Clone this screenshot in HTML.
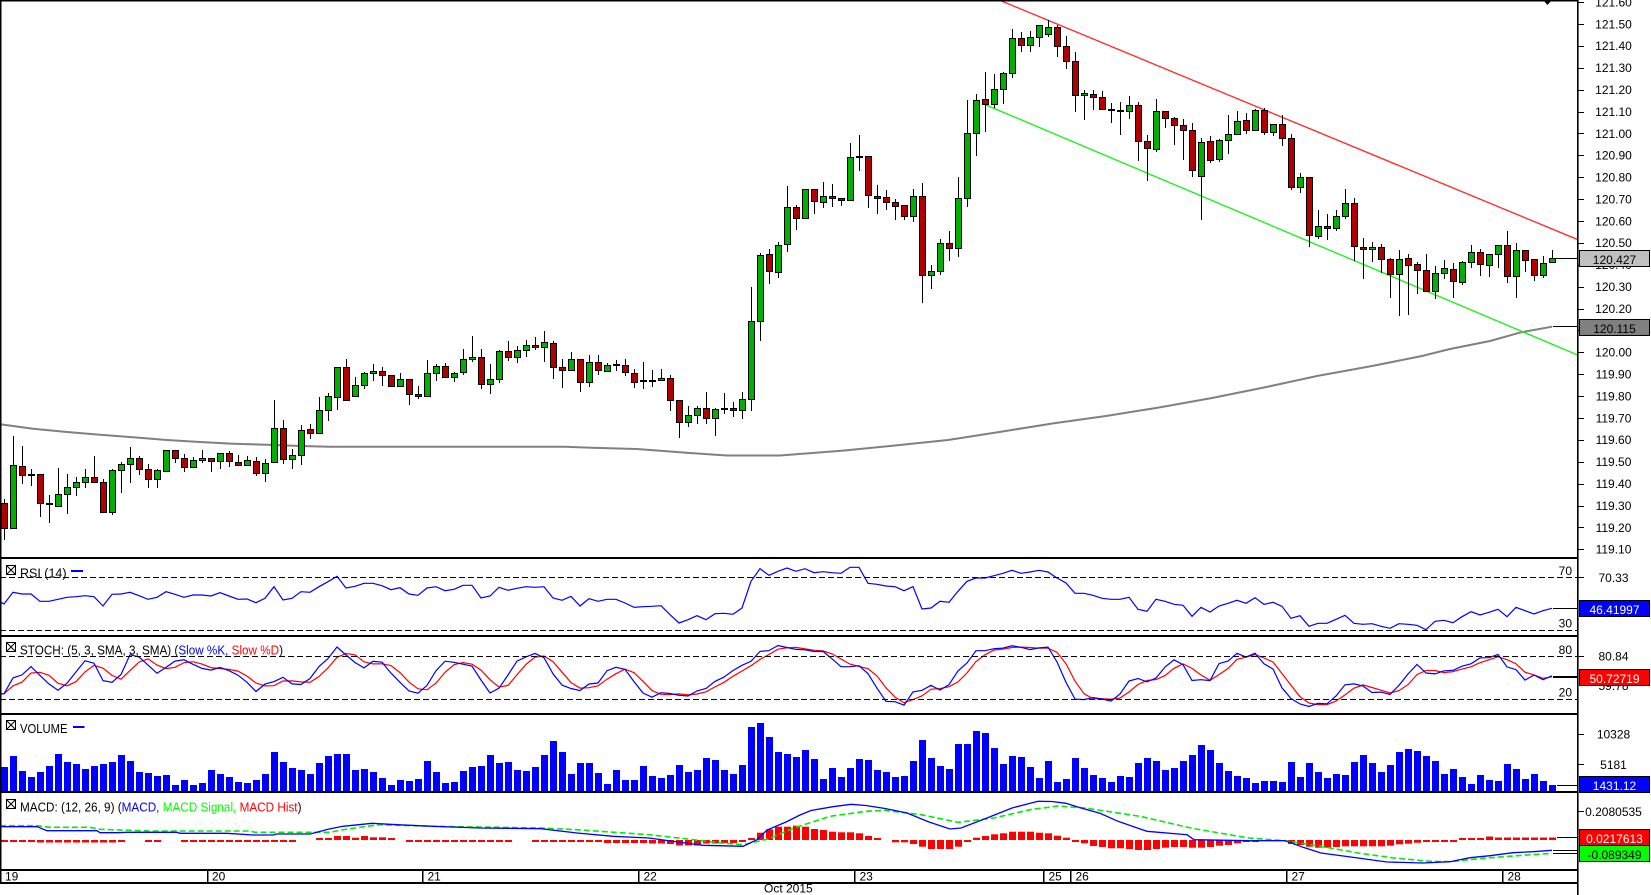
<!DOCTYPE html>
<html><head><meta charset="utf-8">
<style>
html,body{margin:0;padding:0;background:#fff;overflow:hidden;}
svg{display:block;}
text{font-family:"Liberation Sans",Arial,sans-serif;font-size:12px;fill:#000;}
.lg{font-size:13px;}
.ax{text-anchor:middle;}
.lv{text-anchor:end;}
</style></head>
<body>
<svg xmlns="http://www.w3.org/2000/svg" width="1651" height="895" viewBox="0 0 1651 895">
<rect width="1651" height="895" fill="#fff"/>
<defs>
<clipPath id="cpMain"><rect x="0" y="0" width="1577" height="557"/></clipPath>
<clipPath id="cpRsi"><rect x="0" y="559" width="1577" height="76"/></clipPath>
<clipPath id="cpSto"><rect x="0" y="637" width="1577" height="76"/></clipPath>
<clipPath id="cpVol"><rect x="0" y="715" width="1577" height="76"/></clipPath>
<clipPath id="cpMacd"><rect x="0" y="793" width="1577" height="76"/></clipPath>
</defs>
<g id="gMain" clip-path="url(#cpMain)"></g>
<g id="gRsi" clip-path="url(#cpRsi)"></g>
<g id="gSto" clip-path="url(#cpSto)"></g>
<g id="gVol" clip-path="url(#cpVol)"></g>
<g id="gMacd" clip-path="url(#cpMacd)"></g>
<g id="gAx"></g>

<!-- level lines -->
<g stroke="#000" stroke-width="1" stroke-dasharray="6,3" fill="none">
<line x1="0" y1="577.5" x2="1577" y2="577.5"/>
<line x1="0" y1="630.5" x2="1577" y2="630.5"/>
<line x1="0" y1="656.5" x2="1577" y2="656.5"/>
<line x1="0" y1="699.5" x2="1577" y2="699.5"/>
</g>

<!-- frame -->
<rect x="0" y="0" width="1578" height="1.5" fill="#000"/>
<rect x="0" y="0" width="1.5" height="883" fill="#000"/>
<rect x="0" y="557" width="1578" height="2" fill="#000"/>
<rect x="0" y="635" width="1578" height="2" fill="#000"/>
<rect x="0" y="713" width="1578" height="2" fill="#000"/>
<rect x="0" y="791" width="1578" height="2" fill="#000"/>
<rect x="0" y="869" width="1578" height="2" fill="#000"/>
<rect x="0" y="882" width="1578" height="2" fill="#000"/>
<rect x="1577" y="0" width="1.6" height="895" fill="#000"/>
<polygon points="1543,0 1552,0 1547.5,5" fill="#000"/>

<!-- date separators -->
<g fill="#000">
<rect x="207" y="870" width="1.5" height="13"/>
<rect x="422" y="870" width="1.5" height="13"/>
<rect x="638" y="870" width="1.5" height="13"/>
<rect x="854" y="870" width="1.5" height="13"/>
<rect x="1043" y="870" width="1.5" height="13"/>
<rect x="1070" y="870" width="1.5" height="13"/>
<rect x="1286" y="870" width="1.5" height="13"/>
<rect x="1502" y="870" width="1.5" height="13"/>
</g>
<text x="5" y="880.5">19</text>
<text x="212" y="880.5">20</text>
<text x="427.5" y="880.5">21</text>
<text x="643.5" y="880.5">22</text>
<text x="859.5" y="880.5">23</text>
<text x="1048.5" y="880.5">25</text>
<text x="1075.5" y="880.5">26</text>
<text x="1291.5" y="880.5">27</text>
<text x="1507.5" y="880.5">28</text>
<text x="764" y="892.5">Oct 2015</text>

<!-- legends -->
<g fill="#fff" stroke="#000" stroke-width="1">
<rect x="6.5" y="565.5" width="9" height="9"/>
<rect x="6.5" y="642.5" width="9" height="9"/>
<rect x="6.5" y="720.5" width="9" height="9"/>
<rect x="6.5" y="799.5" width="9" height="9"/>
</g>
<path d="M6.5 565.5L15.5 574.5M15.5 565.5L6.5 574.5M6.5 642.5L15.5 651.5M15.5 642.5L6.5 651.5M6.5 720.5L15.5 729.5M15.5 720.5L6.5 729.5M6.5 799.5L15.5 808.5M15.5 799.5L6.5 808.5" stroke="#000" stroke-width="1" fill="none"/>
<text class="lg" x="20" y="577.5" textLength="46.5" lengthAdjust="spacingAndGlyphs">RSI (14)</text>
<rect x="71" y="570" width="12" height="2" fill="#0000ff"/>
<text class="lg" x="20" y="654.5" textLength="263" lengthAdjust="spacingAndGlyphs">STOCH: (5, 3, SMA, 3, SMA) (<tspan fill="#0000ff">Slow %K,</tspan> <tspan fill="#ff0000">Slow %D</tspan>)</text>
<text class="lg" x="20" y="733" textLength="47.5" lengthAdjust="spacingAndGlyphs">VOLUME</text>
<rect x="73" y="726" width="11.5" height="2" fill="#0000ff"/>
<text class="lg" x="20" y="811.5" textLength="281.5" lengthAdjust="spacingAndGlyphs">MACD: (12, 26, 9) (<tspan fill="#0000ff">MACD,</tspan> <tspan fill="#00ff00">MACD Signal,</tspan> <tspan fill="#ff0000">MACD Hist</tspan>)</text>

<!-- level labels -->
<text class="lv" x="1572" y="575">70</text>
<text class="lv" x="1572" y="627.3">30</text>
<text class="lv" x="1572" y="654">80</text>
<text class="lv" x="1572" y="696.7">20</text>

<!-- price axis labels -->
<g class="ax">
<text class="ax" x="1613.5" y="6.4">121.60</text>
<text class="ax" x="1613.5" y="28.3">121.50</text>
<text class="ax" x="1613.5" y="50.2">121.40</text>
<text class="ax" x="1613.5" y="72.1">121.30</text>
<text class="ax" x="1613.5" y="94">121.20</text>
<text class="ax" x="1613.5" y="115.9">121.10</text>
<text class="ax" x="1613.5" y="137.8">121.00</text>
<text class="ax" x="1613.5" y="159.6">120.90</text>
<text class="ax" x="1613.5" y="181.5">120.80</text>
<text class="ax" x="1613.5" y="203.4">120.70</text>
<text class="ax" x="1613.5" y="225.3">120.60</text>
<text class="ax" x="1613.5" y="247.2">120.50</text>
<text class="ax" x="1613.5" y="269.1">120.40</text>
<text class="ax" x="1613.5" y="291">120.30</text>
<text class="ax" x="1613.5" y="312.9">120.20</text>
<text class="ax" x="1613.5" y="334.8">120.10</text>
<text class="ax" x="1613.5" y="356.6">120.00</text>
<text class="ax" x="1613.5" y="378.5">119.90</text>
<text class="ax" x="1613.5" y="400.4">119.80</text>
<text class="ax" x="1613.5" y="422.3">119.70</text>
<text class="ax" x="1613.5" y="444.2">119.60</text>
<text class="ax" x="1613.5" y="466.1">119.50</text>
<text class="ax" x="1613.5" y="488">119.40</text>
<text class="ax" x="1613.5" y="509.9">119.30</text>
<text class="ax" x="1613.5" y="531.8">119.20</text>
<text class="ax" x="1613.5" y="553.7">119.10</text>
<text class="ax" x="1613.5" y="582">70.33</text>
<text class="ax" x="1613.5" y="660.5">80.84</text>
<text class="ax" x="1613.5" y="690">59.78</text>
<text class="ax" x="1613.5" y="738.7">10328</text>
<text class="ax" x="1613.5" y="769">5181</text>
<text class="ax" x="1613.5" y="816">0.2080535</text>
</g>

<!-- current value lines -->
<g fill="#000">
<rect x="1556" y="258" width="21" height="1"/>
<rect x="1553" y="326" width="24" height="1"/>
<rect x="1553" y="608" width="24" height="1"/>
<rect x="1553" y="676" width="24" height="2"/>
<rect x="1557" y="785" width="20" height="1"/>
<rect x="1557" y="837" width="20" height="1"/>
<rect x="1553" y="850" width="24" height="1"/>
<rect x="1553" y="853" width="24" height="1"/>
</g>

<!-- value boxes -->
<rect x="1579.5" y="250.5" width="70" height="16" fill="#c0c0c0" stroke="#000"/>
<text class="ax" x="1614.5" y="263.8">120.427</text>
<rect x="1579.5" y="319.5" width="70" height="16" fill="#808080" stroke="#000"/>
<text class="ax" x="1614.5" y="332.8">120.115</text>
<rect x="1579.5" y="600.5" width="70" height="16" fill="#0000ff" stroke="#000"/>
<text class="ax" x="1614.5" y="613.8" fill="#fff" style="fill:#fff">46.41997</text>
<rect x="1579.5" y="669.5" width="70" height="16" fill="#ff0000" stroke="#000"/>
<text class="ax" x="1614.5" y="682.8" style="fill:#fff">50.72719</text>
<rect x="1579.5" y="776.5" width="70" height="16" fill="#0000ff" stroke="#000"/>
<text class="ax" x="1614.5" y="789.8" style="fill:#fff">1431.12</text>
<rect x="1579.5" y="829.5" width="70" height="16" fill="#ff0000" stroke="#000"/>
<text class="ax" x="1614.5" y="842.8" style="fill:#fff">0.0217613</text>
<rect x="1579.5" y="845.5" width="70" height="16" fill="#00ff00" stroke="#000"/>
<text class="ax" x="1614.5" y="858.8">-0.089349</text>
</svg>

<script>
(function(){
var NS="http://www.w3.org/2000/svg";
function mk(tag,a,p){var e=document.createElementNS(NS,tag);for(var k in a)e.setAttribute(k,a[k]);p.appendChild(e);return e;}
var gMain=document.getElementById('gMain'),gRsi=document.getElementById('gRsi'),gSto=document.getElementById('gSto'),gVol=document.getElementById('gVol'),gMacd=document.getElementById('gMacd'),gAx=document.getElementById('gAx');
function X(k){return 4+9*k;}
var D=[
[503.3,528.3,499,539.3],[528.3,465.3,436,528.3],[466.3,475.3,446,482.7],[474.3,475.3,469,484.7],[474.3,503.3,474.3,515.7],
[503.3,504.3,495,521.7],[505.7,494.3,468,505.7],[494.3,487.3,474,512.7],[487.3,482.3,477.3,494.7],[482.3,477.3,469,486.7],
[477.3,482.3,456,482.3],[482.3,512.3,479.3,512.3],[512.3,470.3,469.3,514.3],[470.3,464,462,492.3],[464.3,458.3,447,481.7],
[458.3,469.3,456,474.3],[469.3,479.3,464,487.3],[479.3,470.3,469.3,487.3],[471.3,450.3,450.3,471.3],[450.3,458.3,450.3,461.7],
[458.3,467.3,454,470.7],[467.3,460.3,457.3,467.3],[460.3,458.3,450,462.3],[458.3,461.3,458.3,471.3],[461.3,453.3,453.3,467.7],
[453.3,461.3,451.3,466.3],[462.3,465.3,455.3,465.3],[465.3,460.3,456.3,465.3],[461.3,473.3,457.3,475.3],[473.3,463.3,459.3,480.7],
[462.3,428.3,400.3,462.3],[428.3,459.3,420.3,463.3],[459.3,455.3,449.3,468.3],[455.3,430.3,425.3,464.3],[429.3,433.3,424.3,438.3],
[433.3,410.3,397.3,433.3],[410.3,396.3,393.3,420.3],[397.3,367.3,367.3,409.3],[367.3,400.3,359.3,400.3],[396.3,385.3,377.3,396.3],
[385.3,373.3,372.3,388.3],[373.3,371.3,364.3,380.3],[371.3,375.3,367.3,385.3],[375.3,386.3,375.3,386.3],[386.3,379.3,373.3,386.3],
[379.3,394.3,379.3,404.3],[394.3,396.3,386.3,398.3],[396.3,373.3,360.3,396.3],[373.3,366.3,364.3,380.3],[366.3,377.3,363.3,377.3],
[377.3,373.3,372.3,381.3],[372.3,359.3,349.3,374.3],[359.3,357.3,336,361.3],[357.3,384.3,349.3,388.3],[384.3,379.3,364.3,393.3],
[379.3,351.3,350.3,382.3],[351.3,357.3,341.3,360.3],[357.3,350.3,346.3,362.3],[350.3,345.3,340.3,356.3],[345.3,347.3,337.3,349.3],
[347.3,342.3,331.3,361.3],[343.3,367.3,341.3,378.3],[367.3,370.3,359.3,387.3],[370.3,359.3,352.3,370.3],[359.3,382.3,359.3,391.3],
[382.3,362.3,355.3,386.3],[362.3,370.3,355.3,374.3],[371.3,365.3,363.3,371.3],[364.3,365.3,360.3,370.3],[365.3,372.3,359.3,375.3],
[373.3,382.3,369.3,387.3],[380.3,381.3,362.3,388.3],[380.3,380.3,370.3,386.3],[380.3,378.3,369.3,380.3],[378.3,400.3,375.3,410.3],
[400.3,421.7,400.3,436.7],[421.7,415.3,406.3,425.7],[415.3,408.3,406.3,422.7],[408.3,418.3,392.3,422.7],[418.3,409.3,408.3,434.7],
[408.3,409.3,393.3,413.3],[408.3,410.3,402.3,416.3],[410.3,399.3,392.3,418.3],[399.3,321.3,287,410],[321.3,255.3,253.3,340],
[254.3,271.3,249.3,282.7],[272.3,245.3,242.3,276.7],[244.3,207.3,186,250.7],[207.3,218.3,205,228.7],[218.3,189.3,189.3,218.3],
[189.3,201.3,189.3,212.7],[202.3,196.3,182.3,207.3],[196.3,198.3,184,206.3],[198.3,200.3,198.3,205.3],[200.3,157.3,143.3,200.3],
[156.3,157.3,135.3,170.3],[156.3,195.3,156.3,207.3],[196.3,198.3,185.3,213.3],[197.3,202.3,190.3,208.7],[202.3,206.3,199.3,219.3],
[205.3,216.3,205.3,218.7],[216.3,196.3,189.3,221.3],[196.3,275.3,183.3,301.7],[275.3,271.3,265.3,288.3],[271.3,243.3,239.3,274.3],
[243.3,248.3,231.3,260.3],[248.3,198.3,177.3,256.3],[198.3,133.3,100.3,206.3],[133.3,100.3,94.3,155.3],[99.3,104.3,72.3,131.3],
[104.3,89.3,74.3,107.3],[89.3,73.3,72.3,103.3],[73.3,38.3,29.3,77.3],[38.3,45.3,32.3,51.3],[45.3,37.3,31.3,51.3],
[37.3,25.3,25.3,46.3],[34.3,27.3,20.3,36.3],[27.3,46.3,25.3,56.3],[46.3,61.3,36.3,68.3],[61.3,95.3,52,110.7],
[95.3,93.3,90.3,118.7],[94.3,97.3,90.3,108.7],[97.3,109.3,91.3,109.3],[109.3,110.3,103.3,122.3],[110.3,111.3,102.3,134.3],
[111.3,105.3,96.3,118.3],[105.3,141.3,102.3,160.3],[141.3,148.3,135.3,180.3],[149.3,111.3,99.3,151.3],[111.3,118.3,111.3,127.3],
[118.3,125.3,117.3,144.3],[125.3,130.3,119.3,159.3],[130.3,170.3,123.3,176.3],[176.3,142.3,138.3,219.3],[141.3,160.3,136.3,162.3],
[159.3,140.3,139.3,161.3],[140.3,134.3,115.3,153.3],[134.3,121.3,111.3,134.3],[120.3,130.3,113.3,133.3],[130.3,110.3,109.3,130.3],
[110.3,132.3,108.3,134.3],[132.3,124.3,124.3,135.3],[124.3,138.3,115.3,145.3],[138.3,187.3,134.3,189.3],[187.3,177.3,173.3,192.3],
[177.3,235.3,177.3,246.3],[236.3,226.3,210.3,238.3],[226.3,228.3,214.3,239.3],[228.3,216.3,210.3,230.3],[216.3,203.3,189.3,218.3],
[203.3,246.3,198.3,260.3],[247.3,249.3,238.3,278.3],[249.3,247.3,242.3,261.3],[247.3,259.3,244.3,272.3],[259.3,274.3,258.3,297.3],
[274.3,259.3,250.3,315.3],[258.3,265.3,254.3,314.3],[264.3,270.3,262.3,293.3],[270.3,291.3,254.3,291.3],[291.3,273.3,266.3,298.3],
[273.3,268.3,260.3,278.3],[269.3,281.3,263.3,297.3],[282.3,262.3,261.3,284.3],[262.3,252.3,245.3,267.3],[252.3,264.3,249.3,275.3],
[265.3,254.3,254.3,276.3],[254.3,245.3,245.3,267.3],[245.3,276.3,231.3,282.3],[276.3,250.3,243.3,297.3],[250.3,260.3,250.3,271.3],
[259.3,275.3,259.3,280.3],[275.3,263.3,256.3,277.3],[262.3,258.3,250.3,262.3]
];
var V=[767,756,770.7,777,771.7,766,754,761.7,764,769,
766,764,761.7,755,761,771.7,773,776,775,785,
780,785,783,770,774,777,782,783,780,774,
752,762,768,770,774,763,756,754,754,770,
769,772,778,785,780,781,779,761,772,783,
782,771,767,766,755,763,762,770,771,767,
755,741,752,774,763,763,773,784,770,780,
780,766,776,778,775,765,772,770,758,760,
770,774,765,727,723,737,752,754,757,750,
759,779,768,777,768,759,760,770,772,777,
776,761,740,758,766,769,744,744,731,733,
748,764,756,757,767,778,761,782,779,758,
768,775,778,782,776,777,763,758,761,770,
768,761,755,745,750,763,771,776,778,783,
781,781,782,762,777,763,772,778,774,775,
762,755,763,772,765,752,749,751,756,761,
774,769.3,777.3,784,775,780,781,764,769,779,
774,781.3,785];
var R=[604,592.3,594,594,601.3,601.3,599.3,597.3,596.7,595.7,
596.7,606,594.3,594,592.3,595.7,599.3,597.3,591.7,594.3,
597.3,595,595,596,592.7,596,599.3,599,602.7,598.3,
586.7,600,598.3,591.7,592.3,586.7,581.7,576.3,588,586.3,
583.3,583.3,585.7,589.7,587.7,594,595.3,588,586.7,590.7,
589.3,585.3,585.3,598,596,587.3,590.3,588.3,586.7,587.3,
586.7,598,600.3,596.3,606,598.7,601.3,599.3,599.3,603,
607.3,606.7,606.3,605.7,614.7,623,619.7,615.7,619.7,613.7,
613.3,614.3,608,581.3,568.7,575.3,571.3,568,571.3,568.7,
572.7,571.7,572.7,573.3,567.3,567.3,583.3,584.3,586,586.7,
590.7,586.7,609,608,601.3,602.3,591.3,581.3,578,578,
575.7,573.3,570.3,573.3,572,570.3,572,578,583,593.3,
593.3,595.3,598.3,599.3,599.3,597.3,609.3,611.3,599.3,601.3,
604.3,605.3,616.3,607.3,612,606,603.3,600.3,603.3,597.7,
604.3,602.3,606.3,618.3,615.7,626.3,623.3,623.3,619.3,615.3,
623.3,624.3,623.7,626.3,628.3,623.7,624.3,625.3,629.7,621.3,
620.3,622.7,616.7,611.7,615,612.3,609.3,616.7,607.3,610.7,
614,610.7,608.3];
function rep(v,n){var a=[];for(var i=0;i<n;i++)a.push(v);return a;}
var HI=[].concat(rep(-2,4),rep(-2.5,9),[-1],rep(0,2),rep(-1,2),rep(0,2),rep(-1,13),rep(0,2),rep(1.5,2),
[4,4,2.3,4,2.7,2.7,1,0],rep(-1,5),rep(-2,2),rep(-1,5),rep(0,2),rep(-2,8),rep(-3,5),rep(-3.5,2),[-4],rep(-5.5,3),rep(-3.5,2),rep(-3,2),[-1],[1.7],
[7.3,10.7,13.3,13.3,14.3,13.3,11,10,8.3,7.7,7.7,6.7,4,1.7,0,-2.3,-2.3,-4,-6.7,-9,-9,-9,-6.7,-1.7,2.3,4,5.7,6.7,8.3,8.3,8.3,7.3,6.7,4.3,2.3,-1.7,-3.3,-6,
-7,-8.3,-8.3,-9,-10,-10,-9,-7.7,-7,-7,-7.7,-7.7,-7,-5.7,-5,-3.3,-2,-1.3,0,0,0,-4,-5,-6.7,-7.7,-7.7,-7,-6.3,-6.3,-6.3,-6.3,-6.3,-5.7,-4.3,-3.7,-2.7,-2,-1,-1,-1],
[1.5,2,2,3.5],rep(2.5,7));

/* MA */
var MA=[[0,424.3],[33,428.7],[67,432],[100,434.7],[133,437.3],[167,440],[200,442],[233,443.7],[267,444.7],[300,446],[330,446.7],[565,446.7],[592,447.7],[637,449],[690,453],[727,455.5],[780,455.5],[843,450.6],[896,445.4],[948,440],[1001,431.7],[1054,423.3],[1106,416],[1159,407.5],[1212,398],[1264,387.5],[1317,376],[1370,366.4],[1422,356],[1450,349],[1490,341],[1521,332.3],[1552,326.7]];
mk('polyline',{points:MA.map(function(p){return p.join(',');}).join(' '),fill:'none',stroke:'#808080','stroke-width':2},gMain);
mk('line',{x1:999,y1:0,x2:1577,y2:239.3,stroke:'#ff3030','stroke-width':1.4},gMain);
mk('line',{x1:985.3,y1:104.7,x2:1577,y2:354.7,stroke:'#22ee22','stroke-width':1.4},gMain);

/* candles */
for(var k=0;k<D.length;k++){
  var d=D[k],cx=X(k),o=d[0],c=d[1],h=d[2],l=d[3];
  mk('rect',{x:cx,y:Math.round(h),width:1,height:Math.max(1,Math.round(l)-Math.round(h)+1),fill:'#000'},gMain);
  var top=Math.round(Math.min(o,c)),bot=Math.round(Math.max(o,c));
  var hh=Math.max(bot-top,1);
  var col=c<o-0.2?'#00b000':(c>o+0.2?'#b00000':'#000');
  mk('rect',{x:cx-2.5,y:top+0.5,width:6,height:hh,fill:col,stroke:'#000','stroke-width':1},gMain);
}

/* volume */
for(k=0;k<V.length;k++){
  var t=Math.round(V[k]);
  mk('rect',{x:X(k)-3,y:t,width:7,height:791-t,fill:'#0000ff'},gVol);
}

/* RSI */
var rp=['0,601.7'];
for(k=0;k<R.length;k++)rp.push(X(k)+','+R[k]);
mk('polyline',{points:rp.join(' '),fill:'none',stroke:'#0000ff','stroke-width':1.2},gRsi);

/* Stochastic (5,3,3) */
var fk=[],sk=[],sd=[];
for(k=0;k<D.length;k++){
  var hi=1e9,lo=-1e9;
  for(var j=Math.max(0,k-4);j<=k;j++){hi=Math.min(hi,D[j][2]);lo=Math.max(lo,D[j][3]);}
  fk.push(lo-hi>0?(lo-D[k][1])/(lo-hi)*100:50);
}
function sma(a,i,n){var s=0,c=0;for(var j=Math.max(0,i-n+1);j<=i;j++){s+=a[j];c++;}return s/c;}
for(k=0;k<D.length;k++)sk.push(sma(fk,k,3));
for(k=0;k<D.length;k++)sd.push(sma(sk,k,3));
function sy(v){return 656+(80-v)*0.7167;}
var pk=[],pd=[];
pk.push('0,'+sy(sk[0]).toFixed(1));pd.push('0,'+sy(sd[0]).toFixed(1));
for(k=0;k<D.length;k++){pk.push(X(k)+','+sy(sk[k]).toFixed(1));pd.push(X(k)+','+sy(sd[k]).toFixed(1));}
mk('polyline',{points:pd.join(' '),fill:'none',stroke:'#ff0000','stroke-width':1.2},gSto);
mk('polyline',{points:pk.join(' '),fill:'none',stroke:'#0000ff','stroke-width':1.2},gSto);

/* MACD */
for(k=0;k<HI.length&&k<173;k++){
  var v=HI[k];if(v===0)continue;
  var hgt=Math.max(Math.abs(v),2);
  mk('rect',{x:X(k)-3,y:v>0?840-hgt:840,width:7,height:hgt,fill:'#ff0000'},gMacd);
}
var SG=[[0,825.7],[37,825.7],[50,827.3],[90,827.3],[100,829.3],[150,831],[250,831],[255,832.3],[330,832.3],[343,829.7],[379,824.7],[433,826.3],[480,827],[541,828],[577,829.7],[649,834.7],[685,838.7],[721,843],[743,844.7],[768,839],[794,828],[830,816.3],[866,811.3],[885,810.3],[921,814.7],[958,822.3],[994,818],[1030,809.7],[1058,806],[1085,808],[1140,816.3],[1194,828.7],[1249,838],[1285,840.7],[1321,846.3],[1358,853],[1394,858],[1430,861.3],[1450,861.7],[1483,858.3],[1517,855.7],[1552,853.3]];
var MC=[[0,826.7],[37,826.7],[47,830.7],[97,830.7],[100,832.7],[117,832.7],[127,832.3],[177,832.3],[180,833.3],[227,833.3],[253,835],[273,835],[277,834],[310,834],[313,833.3],[328,829.3],[343,826.3],[372,823.3],[397,824.7],[433,826.3],[480,828],[541,828.7],[577,833],[613,836.3],[649,838],[685,843],[703,845.3],[743,846.3],[757,839.7],[767,830],[786,822],[800,815],[811,810.5],[833,806.7],[851,804.3],[866,805.5],[885,808.5],[907,813],[929,822],[950,829],[961,828],[987,818],[1012,808],[1038,801.3],[1052,801.5],[1066,803.3],[1081,808],[1100,813.3],[1118,821.3],[1147,831.3],[1187,834.7],[1194,839.7],[1249,840.7],[1285,840.7],[1303,847.3],[1321,853],[1358,858],[1387,862],[1423,863],[1450,861.7],[1470,857.7],[1490,855.7],[1513,852.7],[1533,851.7],[1552,850.3]];
mk('polyline',{points:SG.map(function(p){return p.join(',');}).join(' '),fill:'none',stroke:'#00ee00','stroke-width':1.6,'stroke-dasharray':'6,3'},gMacd);
mk('polyline',{points:MC.map(function(p){return p.join(',');}).join(' '),fill:'none',stroke:'#0000ff','stroke-width':1.3},gMacd);

/* axis ticks */
for(var i=0;i<26;i++){var y=Math.round(2.11+i*21.89);mk('rect',{x:1577,y:y,width:7,height:1,fill:'#000'},gAx);}
[577,656,734,764,811].forEach(function(y){mk('rect',{x:1577,y:y,width:7,height:1,fill:'#000'},gAx);});
})();
</script>
</body></html>
